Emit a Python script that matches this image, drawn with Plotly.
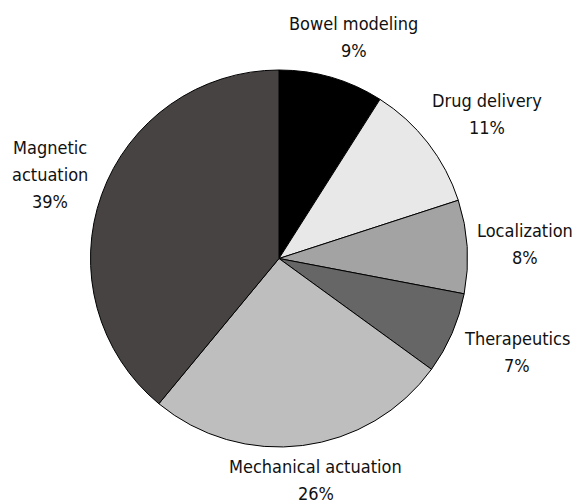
import math
import plotly.graph_objects as go

labels = ["Bowel modeling", "Drug delivery", "Localization", "Therapeutics",
          "Mechanical actuation", "Magnetic actuation"]
label_lines = [["Bowel modeling"], ["Drug delivery"], ["Localization"], ["Therapeutics"],
               ["Mechanical actuation"], ["Magnetic", "actuation"]]
values = [9, 11, 8, 7, 26, 39]
colors = ["#000000", "#e8e8e8", "#a3a3a3", "#666666", "#bebebe", "#474342"]

W, H = 587, 504
CX, CY, R = 271.0, 250.5, 188.5      # pie centre / radius in px
FONT = "DejaVu Sans Condensed, DejaVu Sans, sans-serif"
FS = 18
GAP = 20
LINE_H = 27
CHAR_W = 0.47 * FS
VIS_L, VIS_R, VIS_T, VIS_B = 4, W - 19, 3, H - 8   # visible area of the figure in px

fig = go.Figure(go.Pie(
    labels=labels,
    values=values,
    sort=False,
    direction="clockwise",
    rotation=0,
    marker=dict(colors=colors, line=dict(color="#000000", width=1)),
    textinfo="none",
    showlegend=False,
    domain=dict(x=[(CX - R) / W, (CX + R) / W],
                y=[(H - CY - R) / H, (H - CY + R) / H]),
    hoverinfo="skip",
))

total = sum(values)
cum = 0
annotations = []
for lines, v in zip(label_lines, values):
    theta = math.radians(360.0 * (cum + v / 2.0) / total)
    cum += v
    s, c = math.sin(theta), math.cos(theta)
    pct = f"{round(100 * v / total)}%"
    all_lines = lines + [pct]
    n = len(all_lines)
    w = max(len(t) for t in all_lines) * CHAR_W
    h = n * LINE_H
    x = CX + (R + GAP) * s + w / 2 * s
    y = CY - (R + GAP) * c - h / 2 * c
    # keep the label block inside the visible area
    x = min(max(x, VIS_L + w / 2), VIS_R - w / 2)
    y = min(y, VIS_B - 11 - (n - 1) / 2 * LINE_H)
    y = max(y, VIS_T + 12 + (n - 1) / 2 * LINE_H)
    for i, t in enumerate(all_lines):
        ly = y + (i - (n - 1) / 2) * LINE_H
        annotations.append(dict(
            x=x / W, y=1 - ly / H, xref="paper", yref="paper",
            text=t, showarrow=False,
            xanchor="center", yanchor="middle",
            font=dict(family=FONT, size=FS, color="#111111"),
        ))

fig.update_layout(
    width=W, height=H,
    margin=dict(l=0, r=0, t=0, b=0),
    paper_bgcolor="white",
    plot_bgcolor="white",
    annotations=annotations,
)

fig.write_html("out.html")
